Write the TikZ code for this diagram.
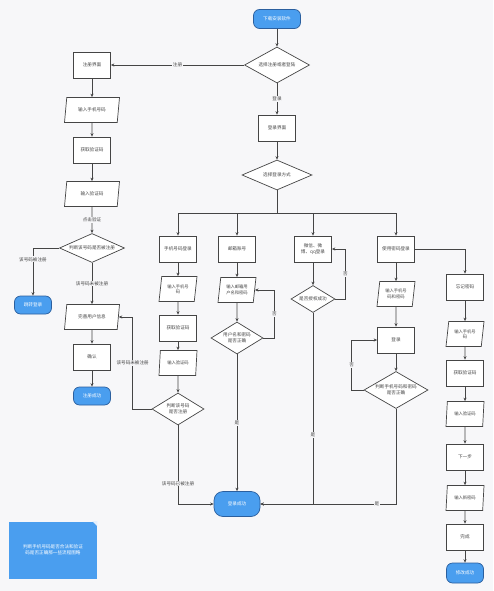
\documentclass[tikz,border=0pt]{standalone}
\usepackage{fontspec}
\newfontfamily\cjk{Noto Sans CJK SC}
\usepackage{xcolor}
\usepackage{tikz}
\usetikzlibrary{shapes.geometric}
\usetikzlibrary{arrows.meta}
\definecolor{bg}{HTML}{F7F7F9}
\definecolor{ln}{HTML}{454545}
\definecolor{blu}{HTML}{4A9EEF}
\definecolor{bludark}{HTML}{2B5F9E}
\begin{document}
\begin{tikzpicture}[
    x=1pt, y=-1pt, line width=0.7pt, draw=ln,
    >={Stealth[length=3.5pt, width=3pt]},
    every node/.style={font=\cjk\fontsize{4.6}{5.6}\selectfont, align=center, text=ln},
    box/.style={rectangle, draw=ln, fill=white, minimum width=37pt, minimum height=26pt, inner sep=1pt},
    io/.style={trapezium, trapezium left angle=70, trapezium right angle=110, trapezium stretches body,
      draw=ln, fill=white, minimum width=55pt, minimum height=25pt, inner sep=1pt},
    io narrow/.style={io, trapezium left angle=75, trapezium right angle=105, minimum width=38pt,
      inner sep=0.5pt, font=\cjk\fontsize{4.3}{5.3}\selectfont},
    dec/.style={diamond, draw=ln, fill=white, shape aspect=2.2, inner sep=0pt},
    term/.style={rectangle, rounded corners=6pt, draw=bludark, fill=blu, text=white,
      minimum width=37pt, minimum height=18pt, inner sep=1pt},
    edge label/.style={fill=bg, inner sep=0.8pt},
  ]

  \fill[bg] (0,0) rectangle (493,591);
  \useasboundingbox (0,0) rectangle (493,591);

  \node[term, minimum width=47pt, minimum height=19pt] (start) at (277,19) {下载安装软件};
  \node[dec, minimum width=65pt, minimum height=36pt] (choose) at (277,65) {选择注册或者登陆};

  \node[box] (reg)      at (92,65)  {注册界面};
  \node[io]  (regphone) at (92,110) {输入手机号码};
  \node[box] (regcode)  at (92,150) {获取验证码};
  \node[io]  (reginput) at (92,194) {输入验证码};
  \node[dec, minimum width=65pt, minimum height=29pt] (regcheck) at (92,248) {判断该号码是否被注册};
  \node[term] (tologin) at (33,305) {跳转登录};
  \node[io]  (info)     at (92,317) {完善用户信息};
  \node[box] (confirm)  at (92,357) {确认};
  \node[term] (regok)   at (92,396) {注册成功};

  \node[box] (login) at (277,128) {登录界面};
  \node[dec, minimum width=70pt, minimum height=30pt] (way) at (277,175) {选择登录方式};
  \coordinate (bus) at (277,213);

  \node[box] (phone)              at (178,249) {手机号码登录};
  \node[io narrow] (phonein)      at (178,289) {输入手机号\\码};
  \node[box] (phonecode)          at (178,328) {获取验证码};
  \node[io narrow] (phonecodein)  at (178,363) {输入验证码};
  \node[dec, minimum width=52pt, minimum height=32pt] (phonecheck) at (178,409) {判断该号码\\是否注册};

  \node[box] (mail)          at (237,249) {邮箱账号};
  \node[io narrow] (mailin)  at (237,290) {输入邮箱用\\户名和密码};
  \node[dec, minimum width=52pt, minimum height=32pt] (mailcheck) at (237,338) {用户名和密码\\是否正确};

  \node[box] (social) at (313,249) {微信、微\\博、qq登录};
  \node[dec, minimum width=44pt, minimum height=27pt] (auth) at (313,299) {是否授权成功};

  \node[box] (pwd)          at (396,249) {使用密码登录};
  \node[io narrow] (pwdin)  at (396,294) {输入手机号\\码和密码};
  \node[box] (pwdlogin)     at (396,340) {登录};
  \node[dec, minimum width=64pt, minimum height=37pt] (pwdcheck) at (396,390) {判断手机号码和密码\\是否正确};

  \node[box] (forget)         at (465,287) {忘记密码};
  \node[io narrow] (fphone)   at (465,334) {输入手机号\\码};
  \node[box] (fcode)          at (465,373) {获取验证码};
  \node[io narrow] (fcodein)  at (465,414) {输入验证码};
  \node[box] (next)           at (465,457) {下一步};
  \node[io narrow] (newpwd)   at (465,498) {输入新密码};
  \node[box] (done)           at (465,537) {完成};
  \node[term, minimum height=20pt] (fend) at (465,573) {修改成功};

  \node[term, minimum width=46pt, minimum height=25pt, rounded corners=9pt] (ok) at (237,504) {登录成功};

  \node[rectangle, fill=blu, text=white, minimum width=88pt, minimum height=57pt] (memo) at (53,550)
    {判断手机号码是否合法和验证\\码是否正确那一些流程图略};
  \fill[white!85!blu] (memo.north east) -- ++(-5,0) -- ++(5,5) -- cycle;

  \draw[->] (start) -- (choose);
  \draw[->] (choose) -- node[edge label] {注册} (reg);
  \draw[->] (choose) -- node[edge label] {登录} (login);
  \draw[->] (reg) -- (regphone);
  \draw[->] (regphone) -- (regcode);
  \draw[->] (regcode) -- (reginput);
  \draw[->] (reginput) -- node[edge label] {点击验证} (regcheck);
  \draw[->] (regcheck.west) -| node[edge label, pos=0.62] {该号码被注册} (tologin);
  \draw[->] (regcheck) -- node[edge label] {该号码未被注册} (info);
  \draw[->] (info) -- (confirm);
  \draw[->] (confirm) -- (regok);

  \draw[->] (login) -- (way);
  \draw (way) -- (bus);
  \draw[->] (bus) -| (phone);
  \draw[->] (bus) -| (mail);
  \draw[->] (bus) -| (social);
  \draw[->] (bus) -| (pwd);

  \draw[->] (phone) -- (phonein);
  \draw[->] (phonein) -- (phonecode);
  \draw[->] (phonecode) -- (phonecodein);
  \draw[->] (phonecodein) -- (phonecheck);
  \draw[->] (phonecheck.west) -- ++(-19,0) |- node[edge label, pos=0.25] {该号码未被注册} (info.east);
  \draw[->] (phonecheck) |- node[edge label, pos=0.37] {该号码已被注册} (ok);

  \draw[->] (mail) -- (mailin);
  \draw[->] (mailin) -- (mailcheck);
  \draw[->] (mailcheck.east) -- ++(11,0) |- node[edge label, pos=0.25] {否} (mailin.east);
  \draw[->] (mailcheck) -- node[edge label] {是} (ok);

  \draw[->] (social) -- (auth);
  \draw[->] (auth.east) -- ++(10,0) |- node[edge label, pos=0.25] {否} (social.east);
  \draw[->] (auth) |- node[edge label, pos=0.32] {是} (ok);

  \draw[->] (pwd) -- (pwdin);
  \draw[->] (pwdin) -- (pwdlogin);
  \draw[->] (pwdlogin) -- (pwdcheck);
  \draw[->] (pwdcheck.west) -- ++(-12,0) |- node[edge label, pos=0.25] {否} (pwdlogin.west);
  \draw[->] (pwdcheck) |- node[edge label, pos=0.57] {是} (ok);

  \draw[->] (pwd.east) -| (forget);
  \draw[->] (forget) -- (fphone);
  \draw[->] (fphone) -- (fcode);
  \draw[->] (fcode) -- (fcodein);
  \draw[->] (fcodein) -- (next);
  \draw[->] (next) -- (newpwd);
  \draw[->] (newpwd) -- (done);
  \draw[->] (done) -- (fend);

\end{tikzpicture}
\end{document}
